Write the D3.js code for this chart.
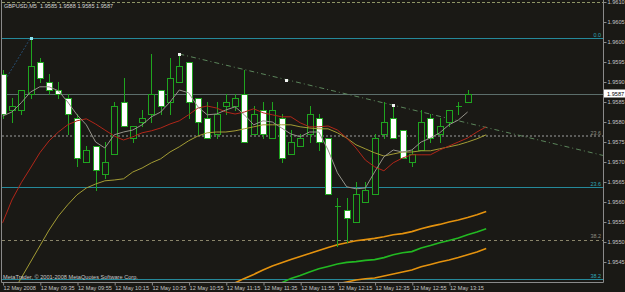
<!DOCTYPE html>
<html>
<head>
<meta charset="utf-8">
<script src="https://cdn.jsdelivr.net/npm/d3@7"></script>
<style>
  html, body { margin: 0; padding: 0; background: #1a1915; }
  svg { display: block; }
  text { font-family: "Liberation Sans", Arial, sans-serif; }
</style>
</head>
<body>
<div id="chart"></div>
<script>
// GBPUSD,M5 - 12 May 2008, bars from 09:15 to 13:25
const symbol = "GBPUSD,M5";

const opens = [1.9592, 1.9583, 1.9583, 1.9587, 1.9595, 1.9590, 1.9588, 1.9586, 1.9581, 1.9570,
  1.9574, 1.9567, 1.9572, 1.9585, 1.9576, 1.9580, 1.9582, 1.9588, 1.9585, 1.9590,
  1.9595, 1.9586, 1.9581, 1.9577, 1.9584, 1.9584, 1.9587, 1.9577, 1.9583, 1.9576,
  1.9581, 1.9572, 1.9574, 1.9577, 1.9581, 1.9576, 1.9559, 1.9558, 1.9555, 1.9560,
  1.9562, 1.9577, 1.9581, 1.9578, 1.9570, 1.9573, 1.9581, 1.9577, 1.9580, 1.9584,
  1.9585];
const highs = [1.9593, 1.9586, 1.9588, 1.9601, 1.9596, 1.9592, 1.9590, 1.9587, 1.9582, 1.9574,
  1.9574, 1.9575, 1.9585, 1.9591, 1.9579, 1.9583, 1.9597, 1.9588, 1.9596, 1.9597,
  1.9595, 1.9586, 1.9585, 1.9585, 1.9587, 1.9587, 1.9593, 1.9584, 1.9585, 1.9585,
  1.9582, 1.9578, 1.9577, 1.9584, 1.9582, 1.9576, 1.9561, 1.9561, 1.9565, 1.9565,
  1.9577, 1.9585, 1.9584, 1.9578, 1.9573, 1.9583, 1.9582, 1.9581, 1.9583, 1.9585,
  1.9588];
const lows = [1.9581, 1.9580, 1.9582, 1.9586, 1.9590, 1.9587, 1.9586, 1.9577, 1.9569, 1.9570,
  1.9563, 1.9566, 1.9572, 1.9579, 1.9575, 1.9579, 1.9580, 1.9582, 1.9582, 1.9590,
  1.9581, 1.9577, 1.9576, 1.9576, 1.9582, 1.9583, 1.9575, 1.9577, 1.9576, 1.9576,
  1.9570, 1.9572, 1.9574, 1.9575, 1.9573, 1.9562, 1.9549, 1.9550, 1.9555, 1.9560,
  1.9562, 1.9576, 1.9576, 1.9571, 1.9569, 1.9573, 1.9575, 1.9575, 1.9579, 1.9582,
  1.9585];
const closes = [1.9582, 1.9584, 1.9588, 1.9594, 1.9591, 1.9588, 1.9587, 1.9582, 1.9571, 1.9573,
  1.9568, 1.9570, 1.9584, 1.9579, 1.9579, 1.9581, 1.9587, 1.9584, 1.9591, 1.9594,
  1.9585, 1.9580, 1.9576, 1.9582, 1.9585, 1.9586, 1.9575, 1.9582, 1.9577, 1.9583,
  1.9571, 1.9575, 1.9576, 1.9582, 1.9575, 1.9562, 1.9559, 1.9556, 1.9562, 1.9563,
  1.9576, 1.9580, 1.9576, 1.9571, 1.9572, 1.9580, 1.9576, 1.9579, 1.9583, 1.9584,
  1.9587];

// fast MA (no shift)
const maFast = [1.95815, 1.95825, 1.95848, 1.95875, 1.95888, 1.95888, 1.95878, 1.9585, 1.95818, 1.95793,
  1.9575, 1.95735, 1.95768, 1.95775, 1.9578, 1.95793, 1.95813, 1.95825, 1.9585, 1.9588,
  1.95873, 1.95838, 1.95818, 1.9582, 1.9583, 1.95838, 1.95818, 1.95793, 1.95803, 1.958,
  1.95785, 1.9577, 1.95763, 1.95775, 1.95775, 1.9573, 1.95673, 1.95638, 1.95633, 1.95635,
  1.95675, 1.95713, 1.9573, 1.95725, 1.9573, 1.9575, 1.9576, 1.95773, 1.95793, 1.95805,
  1.95825];
// medium and slow MA, shifted 2 bars forward (53 slots)
const maMid = [1.95548, 1.95605, 1.95648, 1.95685, 1.95723, 1.95753, 1.95775, 1.95793, 1.95803, 1.95808,
  1.95795, 1.9578, 1.95765, 1.95755, 1.95763, 1.95773, 1.95778, 1.95785, 1.95795, 1.95803,
  1.95818, 1.95835, 1.9584, 1.95835, 1.95825, 1.9582, 1.95825, 1.95833, 1.95823, 1.95818,
  1.95813, 1.95813, 1.95798, 1.95788, 1.95788, 1.9579, 1.9578, 1.9576, 1.95735, 1.95705,
  1.95688, 1.95678, 1.95698, 1.9571, 1.95718, 1.95718, 1.95718, 1.9573, 1.9574, 1.9575,
  1.9576, 1.95775, 1.95788];
const maSlow = [1.9533, 1.9537, 1.9541, 1.9545, 1.9549, 1.9553, 1.95565, 1.95593, 1.95618, 1.95635,
  1.95645, 1.95653, 1.95655, 1.95658, 1.95675, 1.95685, 1.95698, 1.95708, 1.95725, 1.95738,
  1.95753, 1.95765, 1.95773, 1.95775, 1.95775, 1.95778, 1.95783, 1.95788, 1.95793, 1.95793,
  1.95793, 1.95793, 1.95788, 1.95785, 1.95783, 1.95783, 1.95773, 1.9576, 1.95743, 1.95733,
  1.95723, 1.95715, 1.9572, 1.95725, 1.95725, 1.95728, 1.95728, 1.95733, 1.95738, 1.95743,
  1.9575, 1.95758, 1.95768];

// long-period envelope (orange / green / orange), visible from the given slot
const envUpperStart = 24;
const envUpper = [1.95388, 1.95398, 1.95409, 1.95419, 1.9543, 1.9544, 1.95448, 1.95456, 1.95464, 1.95471,
  1.95479, 1.95486, 1.95493, 1.95498, 1.95503, 1.95506, 1.95509, 1.95513, 1.95518, 1.95521,
  1.95526, 1.95533, 1.95539, 1.95544, 1.9555, 1.95555, 1.95561, 1.95568, 1.95576];
const envMidStart = 30;
const envMid = [1.95398, 1.95409, 1.95416, 1.95425, 1.95433, 1.95439, 1.95445, 1.95449, 1.95451, 1.95454,
  1.95456, 1.95461, 1.95468, 1.95473, 1.95476, 1.95485, 1.95491, 1.95498, 1.95504, 1.9551,
  1.95518, 1.95525, 1.95533];
const envLowerStart = 36;
const envLower = [1.95395, 1.954, 1.95405, 1.95408, 1.9541, 1.95415, 1.9542, 1.95425, 1.9543, 1.95438,
  1.95444, 1.9545, 1.95455, 1.95461, 1.95468, 1.95475, 1.95484];

// objects
const trendAnchors = [{ bar: 19, price: 1.9597 }, { bar: 42, price: 1.95842 }];
const fibCyanAnchors = [{ bar: -38, price: 1.9443 }, { bar: 3, price: 1.9601 }];
const fibCyanLevels = [0, 23.6, 38.2];
const fibGrayRange = [1.94409, 1.96183];
const fibGrayLevels = [23.6, 38.2];
const topLinePrice = 1.9610;

// axes
const priceTicks = [1.9610, 1.9605, 1.9600, 1.9595, 1.9590, 1.9585, 1.9580, 1.9575,
  1.9570, 1.9565, 1.9560, 1.9555, 1.9550, 1.9545];
const timeTickBars = [0, 4, 8, 12, 16, 20, 24, 28, 32, 36, 40, 44, 48];
const timeLabels = ["12 May 2008", "12 May 09:35", "12 May 09:55", "12 May 10:15", "12 May 10:35",
  "12 May 10:55", "12 May 11:15", "12 May 11:35", "12 May 11:55", "12 May 12:15",
  "12 May 12:35", "12 May 12:55", "12 May 13:15"];

const width = 625;
const height = 292;
const bg = "#1a1915";
const candleGreen = "#1fa51f";
const cyan = "#25899a";
const fontSize = "5.6px";

const plotLeft = 2, plotRight = 603, plotTop = 2, plotBottom = 282;

const x = d3.scaleLinear().domain([0, 50]).range([2.6, 467.6]);
const y = d3.scaleLinear().domain([1.9610, 1.9540]).range([plotTop, plotBottom]);

const svg = d3.select("#chart").append("svg")
  .attr("width", width)
  .attr("height", height);

svg.append("rect").attr("width", width).attr("height", height).attr("fill", bg);

svg.append("clipPath").attr("id", "plotClip")
  .append("rect")
  .attr("x", plotLeft).attr("y", plotTop)
  .attr("width", plotRight - plotLeft).attr("height", plotBottom - plotTop);

const plot = svg.append("g").attr("clip-path", "url(#plotClip)");

// horizontal levels
function hline(price, color, widthPx, dash) {
  const yy = Math.round(y(price)) + (widthPx % 2 ? 0.5 : 0);
  plot.append("line")
    .attr("x1", plotLeft).attr("x2", plotRight)
    .attr("y1", yy).attr("y2", yy)
    .attr("stroke", color)
    .attr("stroke-width", widthPx)
    .attr("stroke-dasharray", dash || null)
    .attr("shape-rendering", "crispEdges");
}

hline(topLinePrice, "#8e9466", 1, "3,2");

const grayRange = fibGrayRange[1] - fibGrayRange[0];
fibGrayLevels.forEach((lvl, k) => {
  const p = fibGrayRange[1] - grayRange * lvl / 100;
  if (k === 0) hline(p, "#5c5c5a", 2, "2,2");
  else hline(p, "#8a856a", 1, "3,3");
});

const cyanRange = fibCyanAnchors[1].price - fibCyanAnchors[0].price;
fibCyanLevels.forEach(lvl => {
  hline(fibCyanAnchors[1].price - cyanRange * lvl / 100, cyan, 1);
});

// bid line
hline(closes[closes.length - 1], "#5c6e6b", 1);

// fib diagonal
plot.append("line")
  .attr("x1", x(fibCyanAnchors[0].bar)).attr("y1", y(fibCyanAnchors[0].price))
  .attr("x2", x(fibCyanAnchors[1].bar)).attr("y2", y(fibCyanAnchors[1].price))
  .attr("stroke", "#2a5d8c")
  .attr("stroke-dasharray", "1.5,2");

// trend line as ray to the right edge
const slope = (trendAnchors[1].price - trendAnchors[0].price) / (trendAnchors[1].bar - trendAnchors[0].bar);
const endBar = x.invert(plotRight + 20);
plot.append("line")
  .attr("x1", x(trendAnchors[0].bar)).attr("y1", y(trendAnchors[0].price))
  .attr("x2", x(endBar)).attr("y2", y(trendAnchors[0].price + slope * (endBar - trendAnchors[0].bar)))
  .attr("stroke", "#5a845a")
  .attr("stroke-dasharray", "5,3,1,3");

// envelope
const line = d3.line().x(d => x(d.i)).y(d => y(d.v));
function series(values, start) {
  return values.map((v, k) => ({ i: start + k, v }));
}
[[envUpper, envUpperStart, "#e4920e"], [envMid, envMidStart, "#22b922"], [envLower, envLowerStart, "#e4920e"]]
  .forEach(([vals, start, color]) => {
    plot.append("path")
      .datum(series(vals, start))
      .attr("d", line)
      .attr("fill", "none")
      .attr("stroke", color)
      .attr("stroke-width", 1.6);
  });

// candles
const candles = opens.map((o, i) => ({ i, o, h: highs[i], l: lows[i], c: closes[i] }));
const px = i => Math.round(x(i));
const py = p => Math.round(y(p)) + 0.5;

plot.selectAll(".wick").data(candles).join("line")
  .attr("class", "wick")
  .attr("x1", d => px(d.i) + 0.5).attr("x2", d => px(d.i) + 0.5)
  .attr("y1", d => py(d.h) - 0.5).attr("y2", d => py(d.l) + 0.5)
  .attr("stroke", candleGreen)
  .attr("shape-rendering", "crispEdges");

plot.selectAll(".body").data(candles).join("path")
  .attr("class", "body")
  .attr("d", d => {
    const x0 = px(d.i) - 2.5, x1 = px(d.i) + 3.5;
    const y0 = py(Math.max(d.o, d.c)), y1 = py(Math.min(d.o, d.c));
    return `M${x0},${y0}H${x1}V${y1}H${x0}Z`;
  })
  .attr("fill", d => d.c < d.o ? "#ffffff" : bg)
  .attr("stroke", candleGreen)
  .attr("shape-rendering", "crispEdges");

// moving averages
plot.append("path").datum(series(maSlow, 0)).attr("d", line)
  .attr("fill", "none").attr("stroke", "#a39c34").attr("stroke-width", 1);
plot.append("path").datum(series(maMid, 0)).attr("d", line)
  .attr("fill", "none").attr("stroke", "#b02619").attr("stroke-width", 1);
plot.append("path").datum(series(maFast, 0)).attr("d", line)
  .attr("fill", "none").attr("stroke", "#95938a").attr("stroke-width", 1);

// object markers
const midBar = (trendAnchors[0].bar + trendAnchors[1].bar) / 2;
const midPrice = (trendAnchors[0].price + trendAnchors[1].price) / 2;
[[trendAnchors[0].bar, trendAnchors[0].price], [midBar, midPrice], [trendAnchors[1].bar, trendAnchors[1].price]]
  .forEach(([b, p]) => {
    plot.append("rect")
      .attr("x", Math.round(x(b)) - 1).attr("y", Math.round(y(p)) - 1)
      .attr("width", 3).attr("height", 3)
      .attr("fill", "#f2f2f2");
  });
plot.append("rect")
  .attr("x", Math.round(x(fibCyanAnchors[1].bar)) - 1).attr("y", Math.round(y(fibCyanAnchors[1].price)) - 1)
  .attr("width", 3).attr("height", 3)
  .attr("fill", "#8fe6f0");

// level labels
function levelLabel(price, txt, color) {
  svg.append("text")
    .attr("x", 601).attr("y", y(price) - 1.5)
    .attr("text-anchor", "end")
    .style("font-size", "5.4px")
    .attr("fill", color)
    .text(txt);
}
fibCyanLevels.forEach(lvl => {
  levelLabel(fibCyanAnchors[1].price - cyanRange * lvl / 100, lvl.toFixed(1), "#2fa6b6");
});
fibGrayLevels.forEach(lvl => {
  levelLabel(fibGrayRange[1] - grayRange * lvl / 100, lvl.toFixed(1), "#8c8c80");
});

// frame
svg.append("line").attr("x1", 1.5).attr("x2", 1.5).attr("y1", 0).attr("y2", plotBottom + 0.5)
  .attr("stroke", "#8a8a8a");
svg.append("line").attr("x1", 1.5).attr("x2", plotRight + 0.5).attr("y1", plotBottom + 0.5).attr("y2", plotBottom + 0.5)
  .attr("stroke", "#8a8a8a");

// price axis
const yAxis = svg.append("g")
  .attr("transform", `translate(${plotRight + 0.5},0)`)
  .call(d3.axisRight(y).tickValues(priceTicks).tickFormat(d3.format(".4f")).tickSize(3).tickPadding(1));
yAxis.select(".domain").attr("stroke", "#8a8a8a").attr("d", `M0,0V${plotBottom + 0.5}`);
yAxis.selectAll(".tick line").attr("stroke", "#8a8a8a");
yAxis.selectAll(".tick text").attr("fill", "#c4c4c4").style("font-size", fontSize).style("font-family", "Liberation Sans, Arial, sans-serif");

// time axis
const xAxis = svg.append("g")
  .attr("transform", `translate(0.5,${plotBottom + 0.5})`)
  .call(d3.axisBottom(x).tickValues(timeTickBars).tickFormat((d, k) => timeLabels[k]).tickSize(3).tickPadding(1));
xAxis.select(".domain").remove();
xAxis.selectAll(".tick line").attr("stroke", "#8a8a8a");
xAxis.selectAll(".tick text").attr("fill", "#c4c4c4").attr("text-anchor", "start")
  .style("font-size", fontSize).style("font-family", "Liberation Sans, Arial, sans-serif");

// bid label
const last = candles[candles.length - 1];
svg.append("rect")
  .attr("x", 604).attr("y", Math.round(y(last.c)) - 4.5)
  .attr("width", 21).attr("height", 8)
  .attr("fill", "#ffffff");
svg.append("text")
  .attr("x", 607).attr("y", y(last.c) + 2)
  .style("font-size", fontSize)
  .attr("fill", "#000")
  .text(last.c.toFixed(4));

// header and footer
svg.append("text")
  .attr("x", 4).attr("y", 7.5)
  .attr("fill", "#d2d2d2")
  .style("font-size", fontSize)
  .attr("xml:space", "preserve")
  .text(`${symbol}  ${[last.o, last.h, last.l, last.c].map(v => v.toFixed(4)).join(" ")}`);

svg.append("text")
  .attr("x", 3).attr("y", 279)
  .attr("fill", "#c8c8c8")
  .style("font-size", fontSize)
  .text("MetaTrader, © 2001-2008 MetaQuotes Software Corp.");
</script>
</body>
</html>
